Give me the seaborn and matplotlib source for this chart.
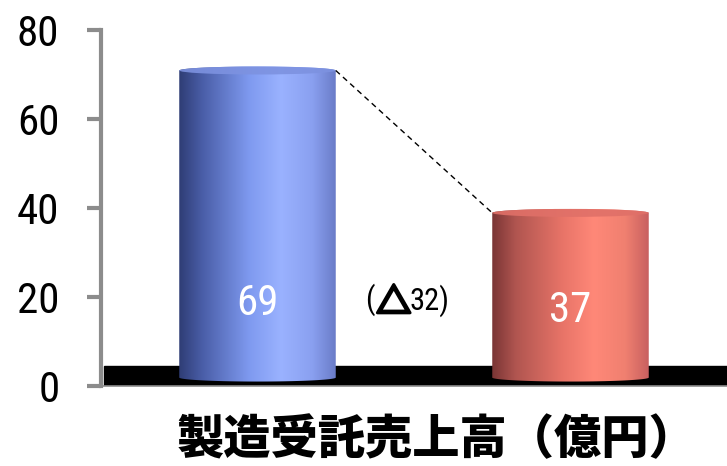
import numpy as np
import pandas as pd
import matplotlib
matplotlib.use("Agg")
import matplotlib.pyplot as plt
import matplotlib.patheffects as pe
import seaborn as sns
from matplotlib.path import Path
from matplotlib.patches import PathPatch, Ellipse
from matplotlib.colors import LinearSegmentedColormap

categories = ["前期", "当期"]
values = [69, 37]
value_labels = ["69", "37"]
diff_label = "(△32)"
xlabel = "製造受託売上高（億円）"
yticks = [0, 20, 40, 60, 80]

sns.set_theme(style="white")
plt.rcParams['font.family'] = ['Roboto Condensed', 'DejaVu Sans']

fig = plt.figure(figsize=(7.27, 4.66), dpi=100)
ax = fig.add_axes([101/727, (466-386)/466, 1 - 101/727, (386-30)/466])

df = pd.DataFrame({"cat": categories, "val": values})
sns.barplot(data=df, x="cat", y="val", ax=ax, width=0.5, color="white")
bar_patches = list(ax.patches)

ax.set_xlim(-0.5, 1.5)
ax.set_ylim(0, 80)

gray = "#8c8c8c"
for s in ["top", "right"]:
    ax.spines[s].set_visible(False)
ax.spines["left"].set_color(gray)
ax.spines["left"].set_linewidth(3)
ax.spines["bottom"].set_color(gray)
ax.spines["bottom"].set_linewidth(1.2)
ax.set_yticks(yticks)
ax.set_yticklabels([str(t) for t in yticks])
ax.tick_params(axis="y", direction="out", length=10, width=3, color=gray,
               pad=20, labelsize=31, labelcolor="black", left=True)
ax.tick_params(axis="x", bottom=False, labelbottom=False)
ax.set_xlabel("")
ax.set_ylabel("")

# black floor band
ax.axhspan(0, 4.5, xmin=0.004, xmax=1, color="black", zorder=1)

cmaps = [
    LinearSegmentedColormap.from_list("b", [(0, "#2f3d75"), (0.15, "#4a5ea8"), (0.45, "#7f9af0"),
                                            (0.65, "#9ab2ff"), (0.85, "#8aa0f0"), (1.0, "#6a7cc8")]),
    LinearSegmentedColormap.from_list("r", [(0, "#7a3535"), (0.15, "#b05550"), (0.45, "#e87468"),
                                            (0.65, "#ff8878"), (0.85, "#f08070"), (1.0, "#c86060")]),
]
cap_colors = ["#7d92e0", "#e07068"]
base = 1.9
ey = 0.9
grad = np.linspace(0, 1, 256).reshape(1, -1)

for i, p in enumerate(bar_patches):
    x0 = p.get_x()
    w = p.get_width()
    h = p.get_height()
    p.set_visible(False)
    x1 = x0 + w
    cx = x0 + w / 2
    top = base + h
    t = np.linspace(np.pi, 2 * np.pi, 60)
    bot_arc = np.column_stack([cx + (w / 2) * np.cos(t), base + ey * np.sin(t)])
    t2 = np.linspace(0, np.pi, 60)
    top_arc = np.column_stack([cx + (w / 2) * np.cos(t2), top + ey * np.sin(t2)])
    verts = np.vstack([[[x0, top]], bot_arc, [[x1, top]], top_arc, [[x0, top]]])
    path = Path(verts)
    clip = PathPatch(path, transform=ax.transData, facecolor="none", edgecolor="none")
    ax.add_patch(clip)
    im = ax.imshow(grad, cmap=cmaps[i], aspect="auto", extent=[x0, x1, base - ey, top + ey],
                   zorder=2, interpolation="bicubic")
    im.set_clip_path(clip)
    cap = Ellipse((cx, top), w, 2 * ey, facecolor=cap_colors[i], edgecolor="none", zorder=3, alpha=0.9)
    ax.add_patch(cap)

ax.set_xlim(-0.5, 1.5)
ax.set_ylim(0, 80)

# value labels
label_y = [18.5, 17.0]
for i, (lab, ly) in enumerate(zip(value_labels, label_y)):
    ax.text(i, ly, lab, color="white", fontsize=31, ha="center", va="center", zorder=5)

# dashed connector
ax.plot([0 + 0.25, 1 - 0.25], [values[0] + base, values[1] + base], color="black",
        lw=1, ls=(0, (4, 3)), zorder=4)

# "(△32)" split so the triangle can be bold
t1 = ax.text(0.345, 19.3, diff_label[0], fontsize=22, ha="left", va="center", color="black", zorder=5)
t2 = ax.annotate(diff_label[1], xy=(1, 0.42), xycoords=t1, xytext=(1, 0), textcoords="offset points",
                 ha="left", va="center", fontsize=25,
                 fontweight="heavy", family=['Noto Sans CJK JP'], color="black", zorder=5,
                 path_effects=[pe.withStroke(linewidth=2.2, foreground="black")])
t3 = ax.annotate(diff_label[2:], xy=(1, 0.55), xycoords=t2, xytext=(-1, 0), textcoords="offset points",
                 ha="left", va="center", fontsize=22,
                 color="black", zorder=5)

fig.text(437/727, (466-440)/466, xlabel, fontsize=34, fontweight="heavy", ha="center", va="center",
         family=['Noto Sans CJK JP', 'DejaVu Sans'], color="black")

fig.savefig("out.png", dpi=100)
